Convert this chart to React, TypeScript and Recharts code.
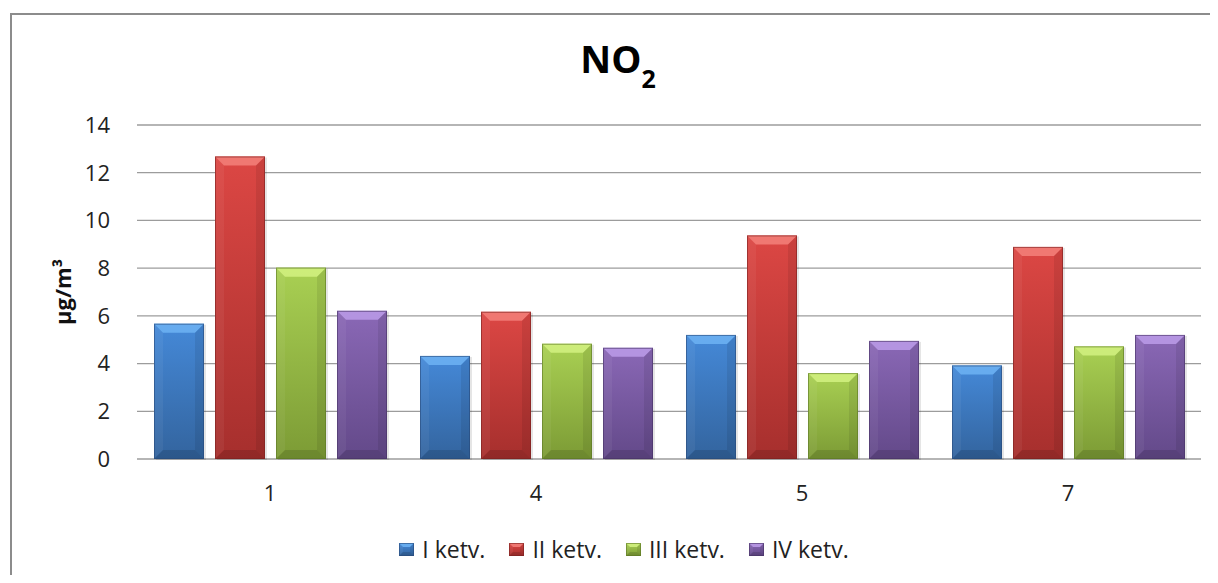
import React from 'react';
import { BarChart, Bar, XAxis, YAxis, CartesianGrid } from 'recharts';

const stations = ['1', '4', '5', '7'];
const q1 = [5.67, 4.32, 5.2, 3.92];
const q2 = [12.68, 6.17, 9.37, 8.89];
const q3 = [8.02, 4.83, 3.6, 4.72];
const q4 = [6.21, 4.66, 4.95, 5.2];
const yTicks = [0, 2, 4, 6, 8, 10, 12, 14];
const seriesNames = ['I ketv.', 'II ketv.', 'III ketv.', 'IV ketv.'];

const FONT = '"Open Sans", "Noto Sans", sans-serif';

interface Palette {
  key: string;
  faceTop: string;
  faceBottom: string;
  top: string;
  edge: string;
}

const palettes: Palette[] = [
  { key: 'q1', faceTop: '#4589d8', faceBottom: '#33649e', top: '#6cb0f2', edge: '#28497a' },
  { key: 'q2', faceTop: '#dc4744', faceBottom: '#a62f2d', top: '#f27d78', edge: '#7a2220' },
  { key: 'q3', faceTop: '#a9d053', faceBottom: '#7c9b35', top: '#d0f07e', edge: '#5c7624' },
  { key: 'q4', faceTop: '#8a68b6', faceBottom: '#634989', top: '#b999e6', edge: '#463264' },
];

const data = stations.map((s, i) => ({ station: s, q1: q1[i], q2: q2[i], q3: q3[i], q4: q4[i] }));

const bevel = (c: Palette, x: number, y: number, w: number, h: number, b: number) => (
  <>
    <rect x={x} y={y} width={w} height={h} fill={`url(#face-${c.key})`} />
    <polygon points={`${x},${y} ${x + w},${y} ${x + w - b},${y + b} ${x + b},${y + b}`} fill={c.top} opacity={0.9} />
    <polygon points={`${x},${y} ${x + b},${y + b} ${x + b},${y + h - b} ${x},${y + h}`} fill="#fff" opacity={0.05} />
    <polygon points={`${x + w},${y} ${x + w},${y + h} ${x + w - b},${y + h - b} ${x + w - b},${y + b}`} fill="#000" opacity={0.08} />
    <polygon points={`${x},${y + h} ${x + w},${y + h} ${x + w - b},${y + h - b} ${x + b},${y + h - b}`} fill="#000" opacity={0.12} />
    <rect x={x + 0.5} y={y + 0.5} width={w - 1} height={h - 1} fill="none" stroke={c.edge} strokeOpacity={0.6} />
  </>
);

const bevelShape = (c: Palette) => (props: any) => {
  const { x, y, width, height } = props;
  if (!height || height <= 0) return <g />;
  const b = Math.min(9, height / 2, width / 2);
  return (
    <g>
      <rect x={x + 2} y={y + 1} width={width} height={height} fill="#000" opacity={0.1} />
      {bevel(c, x, y, width, height, b)}
    </g>
  );
};

const YLabel = (props: any) => {
  const { viewBox } = props;
  const cx = viewBox.x + 25;
  const cy = viewBox.y + viewBox.height / 2;
  return (
    <text
      x={cx}
      y={cy}
      transform={`rotate(-90 ${cx} ${cy})`}
      textAnchor="middle"
      dominantBaseline="central"
      fontFamily={FONT}
      fontSize={22}
      fontWeight="bold"
      fill="#111"
    >
      µg/m³
    </text>
  );
};

export default function App() {
  return (
    <div style={{ position: 'relative', width: 1210, height: 567, overflow: 'hidden', fontFamily: FONT, background: '#fff' }}>
      <div
        style={{
          position: 'absolute',
          left: 2,
          top: 5,
          width: 1240,
          height: 620,
          border: '2px solid #8c8c8c',
          boxSizing: 'border-box',
        }}
      />
      <BarChart
        width={1210}
        height={567}
        data={data}
        margin={{ top: 117, right: 17, left: 29, bottom: 76 }}
        barCategoryGap={17}
        barGap={11}
        style={{ position: 'absolute', left: 0, top: 0 }}
      >
        <defs>
          {palettes.map((c) => (
            <linearGradient key={c.key} id={`face-${c.key}`} x1="0" y1="0" x2="0" y2="1">
              <stop offset="0%" stopColor={c.faceTop} />
              <stop offset="100%" stopColor={c.faceBottom} />
            </linearGradient>
          ))}
        </defs>
        <CartesianGrid vertical={false} stroke="#9c9c9c" strokeWidth={1.3} />
        <XAxis
          dataKey="station"
          axisLine={false}
          tickLine={false}
          tickMargin={20}
          height={40}
          tick={{ fontSize: 22, fill: '#222', fontFamily: FONT }}
        />
        <YAxis
          domain={[0, 14]}
          ticks={yTicks}
          axisLine={false}
          tickLine={false}
          width={100}
          tickMargin={21}
          tick={{ fontSize: 22, fill: '#222', fontFamily: FONT }}
          label={<YLabel />}
        />
        {palettes.map((c, i) => (
          <Bar
            key={c.key}
            dataKey={c.key}
            name={seriesNames[i]}
            fill={c.faceTop}
            shape={bevelShape(c)}
            isAnimationActive={false}
          />
        ))}
      </BarChart>
      <svg width={1210} height={567} style={{ position: 'absolute', left: 0, top: 0, pointerEvents: 'none' }}>
        <text x={610} y={65} textAnchor="middle" fontFamily={FONT} fontWeight="bold" fontSize={38} fill="#000">
          NO<tspan fontSize={25} dy={15}>2</tspan>
        </text>
      </svg>
      <div
        style={{
          position: 'absolute',
          left: 0,
          top: 527,
          width: 1232,
          height: 28,
          display: 'flex',
          justifyContent: 'center',
          alignItems: 'center',
          gap: 24,
        }}
      >
        {palettes.map((c, i) => (
          <div key={c.key} style={{ display: 'flex', alignItems: 'center' }}>
            <svg width={15} height={13} style={{ marginRight: 8 }}>
              {bevel(c, 0, 0, 15, 13, 4)}
            </svg>
            <span style={{ fontSize: 23, color: '#222', lineHeight: '28px' }}>{seriesNames[i]}</span>
          </div>
        ))}
      </div>
    </div>
  );
}
